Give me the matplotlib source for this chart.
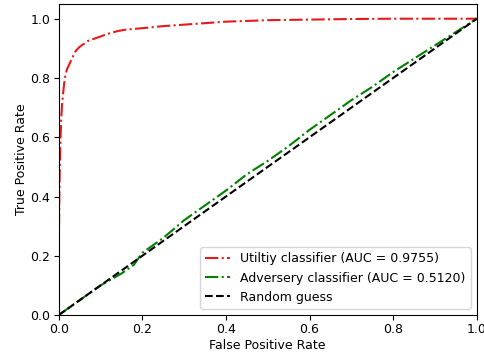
import matplotlib
matplotlib.use("Agg")
import matplotlib.pyplot as plt

# Utility classifier ROC
util_fpr = [0.0, 0.0, 0.002, 0.004, 0.006, 0.008, 0.01, 0.013, 0.016, 0.02, 0.025, 0.03, 0.035,
            0.04, 0.05, 0.06, 0.07, 0.08, 0.1, 0.12, 0.14, 0.16, 0.2, 0.25, 0.3, 0.35, 0.4,
            0.5, 0.6, 0.7, 0.8, 0.9, 1.0]
util_tpr = [0.0, 0.2, 0.45, 0.58, 0.66, 0.71, 0.74, 0.78, 0.81, 0.83, 0.845, 0.86, 0.875,
            0.89, 0.905, 0.915, 0.925, 0.93, 0.94, 0.95, 0.958, 0.963, 0.968, 0.975, 0.98, 0.985, 0.99,
            0.995, 0.997, 0.999, 1.0, 1.0, 1.0]

# Adversary classifier ROC
adv_fpr = [0.0, 0.02, 0.05, 0.1, 0.15, 0.18, 0.2, 0.25, 0.3, 0.35, 0.4, 0.45, 0.5, 0.55,
           0.6, 0.65, 0.7, 0.75, 0.8, 0.85, 0.9, 0.95, 1.0]
adv_tpr = [0.0, 0.02, 0.05, 0.1, 0.14, 0.17, 0.21, 0.26, 0.32, 0.37, 0.42, 0.475, 0.52, 0.57,
           0.625, 0.675, 0.725, 0.77, 0.82, 0.865, 0.91, 0.955, 1.0]

rand_x = [0.0, 1.0]
rand_y = [0.0, 1.0]

labels = ["Utiltiy classifier (AUC = 0.9755)",
          "Adversery classifier (AUC = 0.5120)",
          "Random guess"]

fig = plt.figure(figsize=(4.85, 3.54), dpi=100)
ax = fig.add_axes([0.121, 0.110, 0.862, 0.879])
ax.plot(util_fpr, util_tpr, color="#e41a1c", linestyle="-.", lw=1.5, label=labels[0])
ax.plot(adv_fpr, adv_tpr, color="green", linestyle="-.", lw=1.5, label=labels[1])
ax.plot(rand_x, rand_y, color="black", linestyle="--", lw=1.5, label=labels[2])
ax.set_xlim(0, 1.0)
ax.set_ylim(0, 1.05)
ax.set_xlabel("False Positive Rate", fontsize=9, labelpad=2)
ax.set_ylabel("True Positive Rate", fontsize=9, labelpad=2)
ax.tick_params(labelsize=9, pad=2.5)
ax.legend(loc="lower right", fontsize=9)
fig.savefig("out.png", dpi=100)
